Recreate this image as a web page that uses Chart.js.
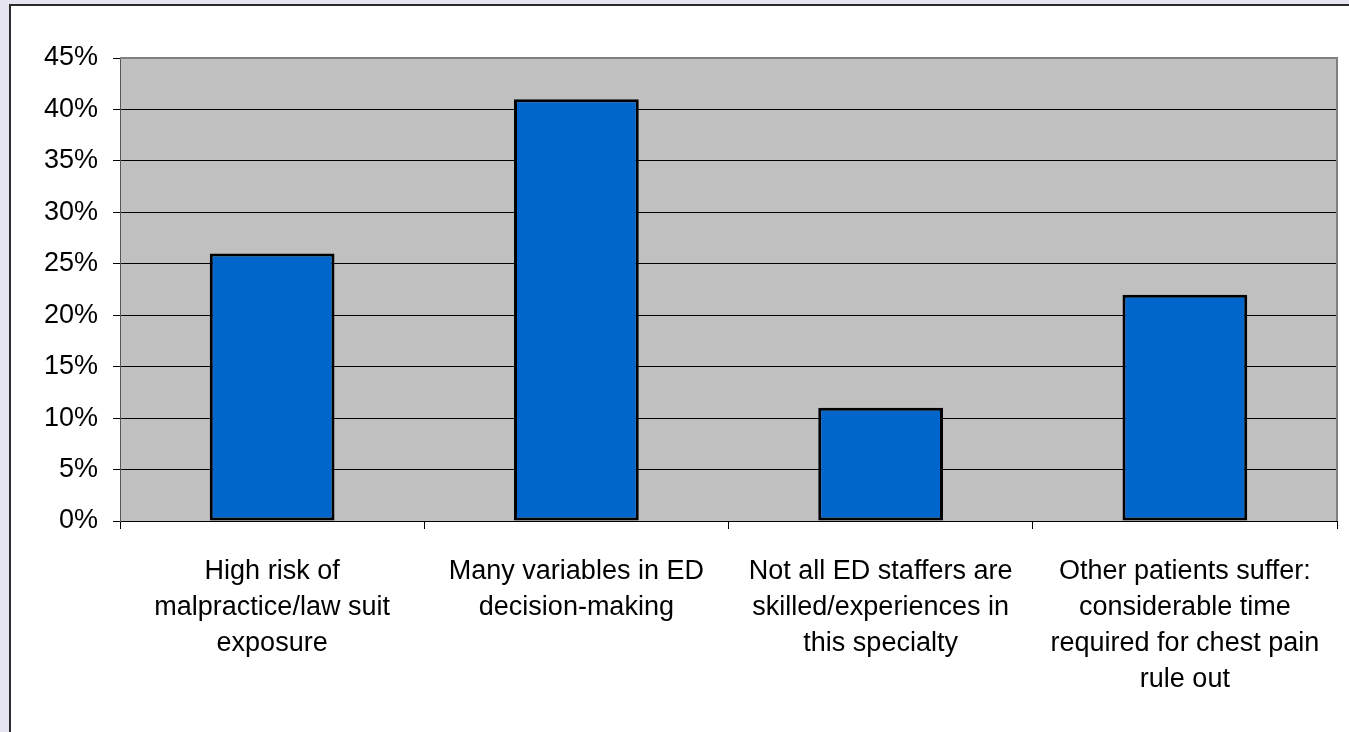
<!DOCTYPE html>
<html>
<head>
<meta charset="utf-8">
<script src="https://cdn.jsdelivr.net/npm/chart.js@4/dist/chart.umd.min.js"></script>
<style>
  html, body { margin: 0; padding: 0; background: #e6e4f0; overflow: hidden; }
  #wrap { position: relative; width: 1349px; height: 732px; }
  #frame {
    position: absolute; left: 9px; top: 4px; width: 1400px; height: 800px;
    background: #ffffff; border: 2px solid #2b2b2b;
  }
  #chart { position: absolute; left: 0; top: 0; }
</style>
</head>
<body>
<div id="wrap">
  <div id="frame"></div>
  <canvas id="chart" width="1349" height="732"></canvas>
</div>
<script>
// --- Data ---
const categories = [
  ['High risk of', 'malpractice/law suit', 'exposure'],
  ['Many variables in ED', 'decision-making'],
  ['Not all ED staffers are', 'skilled/experiences in', 'this specialty'],
  ['Other patients suffer:', 'considerable time', 'required for chest pain', 'rule out']
]
const shares = [26, 41, 11, 22]
const yTicks = [0, 5, 10, 15, 20, 25, 30, 35, 40, 45]

// --- Plot area background and border ---
const plotFrame = {
  id: 'plotFrame',
  beforeDraw(chart) {
    const { ctx, chartArea: a } = chart
    ctx.save()
    ctx.fillStyle = '#c0c0c0'
    ctx.fillRect(a.left, a.top, a.right - a.left, a.bottom - a.top)
    ctx.restore()
  },
  beforeDatasetsDraw(chart) {
    const { ctx, chartArea: a } = chart
    ctx.save()
    ctx.strokeStyle = '#808080'
    ctx.lineWidth = 2
    ctx.beginPath()
    ctx.moveTo(a.left, a.top)
    ctx.lineTo(a.right, a.top)
    ctx.lineTo(a.right, a.bottom)
    ctx.stroke()
    ctx.restore()
  }
}

const font = { family: '"Liberation Sans", Arial, sans-serif', size: 27, lineHeight: 1.34 }

new Chart(document.getElementById('chart'), {
  type: 'bar',
  data: {
    labels: categories,
    datasets: [{
      data: shares,
      backgroundColor: '#0066cc',
      borderColor: '#000000',
      borderWidth: 3,
      borderSkipped: false,
      barPercentage: 0.41,
      categoryPercentage: 1
    }]
  },
  options: {
    responsive: false,
    animation: false,
    layout: { padding: { left: 0, top: 58, right: 12, bottom: 0 } },
    plugins: { legend: { display: false }, tooltip: { enabled: false } },
    scales: {
      x: {
        grid: { display: true, drawOnChartArea: false, color: '#000', tickLength: 8, offset: true },
        border: { color: '#000', width: 1 },
        ticks: { color: '#000', font: font, padding: 24, maxRotation: 0, autoSkip: false },
        afterFit(scale) { scale.height = 211 }
      },
      y: {
        min: 0,
        max: 45,
        afterBuildTicks(scale) { scale.ticks = yTicks.map((v) => ({ value: v })) },
        grid: { color: '#000', lineWidth: 1, tickLength: 7, tickColor: '#000' },
        border: { color: '#555', width: 1 },
        ticks: { color: '#000', font: font, padding: 15, callback: (v) => v + '%' },
        afterFit(scale) { scale.width = 120 }
      }
    }
  },
  plugins: [plotFrame]
})
</script>
</body>
</html>
